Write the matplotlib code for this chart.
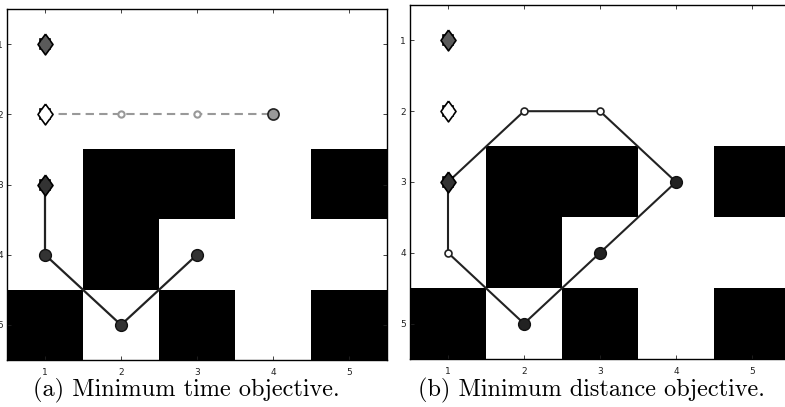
import numpy as np
import matplotlib
matplotlib.use("Agg")
import matplotlib.pyplot as plt

# occupancy grid, rows y=1..5, cols x=1..5 (1 = obstacle)
grid = np.array([
    [0, 0, 0, 0, 0],
    [0, 0, 0, 0, 0],
    [0, 1, 1, 0, 1],
    [0, 1, 0, 0, 0],
    [1, 0, 1, 0, 1],
])

ticks = [1, 2, 3, 4, 5]

# start markers (x, y, fill colour)
start_x = [1, 1, 1]
start_y = [1, 2, 3]
start_col = ["#5a5a5a", "#ffffff", "#333333"]

# (a) minimum time
path_a_x = [1, 1, 2, 3]
path_a_y = [3, 4, 5, 4]
big_a_x = [1, 2, 3]
big_a_y = [4, 5, 4]
gray_x = [1, 2, 3, 4]
gray_y = [2, 2, 2, 2]

# (b) minimum distance
path_b_x = [1, 2, 3, 4, 3, 2, 1, 1]
path_b_y = [3, 2, 2, 3, 4, 5, 4, 3]
small_b_x = [2, 3, 1]
small_b_y = [2, 2, 4]
big_b_x = [4, 3, 2]
big_b_y = [3, 4, 5]

captions = ["(a) Minimum time objective.", "(b) Minimum distance objective."]

W, H = 785, 407
fig = plt.figure(figsize=(W / 100, H / 100), dpi=100)
ax_a = fig.add_axes([7 / W, (H - 360) / H, 380 / W, 351 / H])
ax_b = fig.add_axes([410 / W, (H - 359) / H, 380 / W, 354 / H])

# diamond a bit wider than matplotlib's thin diamond
diamond = [(0, 1), (0.72, 0), (0, -1), (-0.72, 0), (0, 1)]


def draw_base(ax):
    ax.imshow(grid, cmap="gray_r", vmin=0, vmax=1, interpolation="nearest",
              extent=(0.5, 5.5, 5.5, 0.5), aspect="auto")
    ax.set_xlim(0.5, 5.5)
    ax.set_ylim(5.5, 0.5)
    ax.set_xticks(ticks)
    ax.set_yticks(ticks)
    ax.tick_params(direction="in", length=3, width=0.6, top=True, right=True,
                   labelsize=6.5, pad=3, colors="#222222")
    ax.tick_params(axis="x", pad=6)
    for s in ax.spines.values():
        s.set_linewidth(1.0)


def draw_starts(ax):
    for x, y, c in zip(start_x, start_y, start_col):
        ax.plot(x, y, marker="s", ms=7.0, mfc=c, mec="black", mew=1.2, zorder=5)
        ax.plot(x, y, marker=diamond, ms=15, mfc=c, mec="black", mew=1.2, zorder=6)
        ax.plot(x, y, marker="s", ms=5.6, mfc=c, mec="none", zorder=7)


draw_base(ax_a)
ax_a.plot(gray_x, gray_y, color="#999999", lw=1.5, ls=(0, (4, 2.5)), zorder=3)
ax_a.plot(gray_x[1:3], gray_y[1:3], ls="none", marker="o", ms=4.5, mfc="white",
          mec="#999999", mew=1.5, zorder=4)
ax_a.plot(gray_x[-1], gray_y[-1], marker="o", ms=8, mfc="#999999", mec="#222222",
          mew=1.2, zorder=4)
ax_a.plot(path_a_x, path_a_y, color="#222222", lw=1.6, zorder=3)
ax_a.plot(big_a_x, big_a_y, ls="none", marker="o", ms=8.5, mfc="#333333",
          mec="#111111", mew=1.0, zorder=4)
draw_starts(ax_a)

draw_base(ax_b)
ax_b.plot(path_b_x, path_b_y, color="#222222", lw=1.5, zorder=3)
ax_b.plot(small_b_x, small_b_y, ls="none", marker="o", ms=5, mfc="white",
          mec="#222222", mew=1.2, zorder=4)
ax_b.plot(big_b_x, big_b_y, ls="none", marker="o", ms=8.5, mfc="#222222",
          mec="#111111", mew=1.0, zorder=4)
draw_starts(ax_b)

fig.text(186 / W, 1 - 390 / H, captions[0], ha="center", va="center",
         fontsize=17.5, family=["cmr10", "DejaVu Serif"])
fig.text(591 / W, 1 - 390 / H, captions[1], ha="center", va="center",
         fontsize=17.5, family=["cmr10", "DejaVu Serif"])

fig.savefig("out.png", dpi=100)
